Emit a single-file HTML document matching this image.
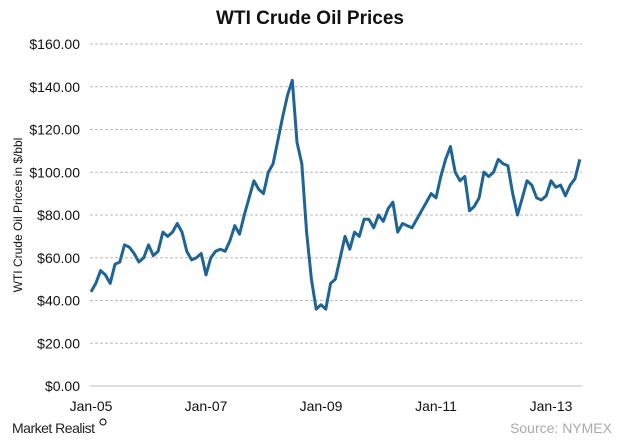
<!DOCTYPE html>
<html><head><meta charset="utf-8"><style>
body{margin:0;background:#fff;}
svg{display:block;font-family:"Liberation Sans",Arial,sans-serif;}
</style></head><body>
<svg width="620" height="442" viewBox="0 0 620 442">
<text x="310" y="24" text-anchor="middle" font-size="19" font-weight="bold" fill="#111">WTI Crude Oil Prices</text>
<text transform="translate(22,215) rotate(-90)" text-anchor="middle" font-size="12" fill="#111">WTI Crude Oil Prices in $/bbl</text>
<g id="grid"></g><g id="ylabels"></g><g id="xlabels"></g>
<path id="series" fill="none" stroke="#1f6496" stroke-width="3" stroke-linejoin="round"/>
<text x="12" y="433" font-size="14" fill="#222" letter-spacing="-0.5">Market Realist</text>
<circle cx="103" cy="422" r="3" fill="none" stroke="#222" stroke-width="1.2"/>
<text x="612" y="433" text-anchor="end" font-size="14" fill="#aaa">Source: NYMEX</text>
</svg>
<script>
const yTicks=[0,20,40,60,80,100,120,140,160];
const yTickLabels=["$0.00","$20.00","$40.00","$60.00","$80.00","$100.00","$120.00","$140.00","$160.00"];
const xTickYears=[2005,2007,2009,2011,2013];
const xTickLabels=["Jan-05","Jan-07","Jan-09","Jan-11","Jan-13"];
const startYear=2005;
const prices=[
44,48,54,52,48,57,58,66,65,62,58,60,
66,61,63,72,70,72,76,72,63,59,60,62,
52,60,63,64,63,68,75,71,80,88,96,92,
90,100,104,115,126,136,143,114,104,72,50,36,
38,36,48,50,60,70,64,72,70,78,78,74,
80,77,83,86,72,76,75,74,78,82,86,90,
88,98,106,112,100,96,98,82,84,88,100,98,
100,106,104,103,90,80,88,96,94,88,87,89,
96,93,94,89,94,97,106];
const NS="http://www.w3.org/2000/svg";
function X(yr){return 91+(yr-2005)*57.5;}
function Y(v){return 386-v*(342/160);}
const grid=document.getElementById('grid'),yl=document.getElementById('ylabels'),xl=document.getElementById('xlabels');
yTicks.forEach((t,i)=>{
 const l=document.createElementNS(NS,'line');
 
 
 l.setAttribute('x1',90);l.setAttribute('x2',582);l.setAttribute('y1',Y(t));l.setAttribute('y2',Y(t));
 l.setAttribute('stroke',t===0?'#bbb':'#bbb');
 if(t!==0)l.setAttribute('stroke-dasharray','3,2');
 grid.appendChild(l);
 const tx=document.createElementNS(NS,'text');
 
 
 tx.setAttribute('x',80);tx.setAttribute('y',Y(t)+5);tx.setAttribute('text-anchor','end');tx.setAttribute('font-size','14');tx.setAttribute('fill','#111');
 tx.textContent=yTickLabels[i];yl.appendChild(tx);
});
xTickYears.forEach((yr,i)=>{
 const tx=document.createElementNS(NS,'text');
 
 
 tx.setAttribute('x',X(yr));tx.setAttribute('y',411);tx.setAttribute('text-anchor','middle');tx.setAttribute('font-size','14');tx.setAttribute('fill','#111');
 tx.textContent=xTickLabels[i];xl.appendChild(tx);
});
document.getElementById('series').setAttribute('d',prices.map((v,i)=>(i?'L':'M')+X(startYear+i/12).toFixed(1)+','+Y(v).toFixed(1)).join(''));
</script>
</body></html>
